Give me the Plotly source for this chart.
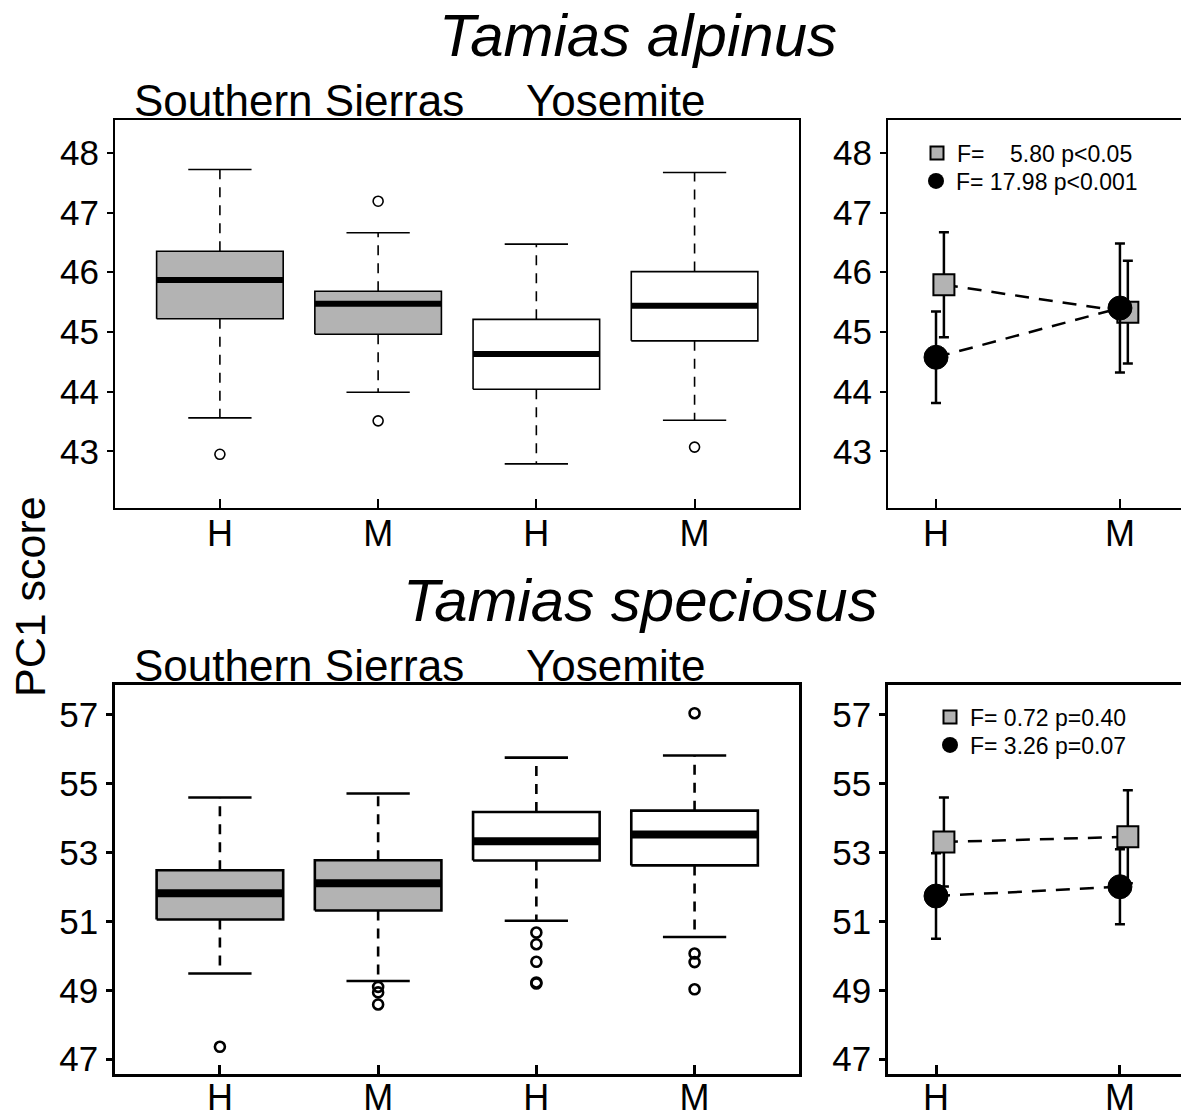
import plotly.graph_objects as go

W, H = 1181, 1118
FONT = "Arial, Liberation Sans, sans-serif"
GREY = "#b3b3b3"

# ---------------- data ----------------
box_x = [1, 2, 3, 4]
box_ticktext = ["H", "M", "H", "M"]
box_fill = [GREY, GREY, "white", "white"]

# Tamias alpinus boxplots
alp_q1 = [45.22, 44.96, 44.04, 44.85]
alp_med = [45.87, 45.47, 44.63, 45.44]
alp_q3 = [46.35, 45.68, 45.21, 46.01]
alp_lo = [43.56, 43.99, 42.79, 43.52]
alp_hi = [47.72, 46.66, 46.47, 47.67]
alp_out_x = [1, 2, 2, 4]
alp_out_y = [42.95, 47.19, 43.51, 43.07]

# Tamias speciosus boxplots
spe_q1 = [51.06, 51.32, 52.77, 52.63]
spe_med = [51.82, 52.11, 53.33, 53.53]
spe_q3 = [52.49, 52.78, 54.18, 54.22]
spe_lo = [49.49, 49.27, 51.02, 50.55]
spe_hi = [54.60, 54.72, 55.76, 55.82]
spe_out_x = [1, 2, 2, 2, 3, 3, 3, 3, 3, 4, 4, 4, 4]
spe_out_y = [47.36, 49.10, 48.94, 48.59, 50.68, 50.34, 49.83, 49.23, 49.20,
             57.05, 50.07, 49.82, 49.03]

# interaction plots (H, M)
int_x = [1, 2]
int_ticktext = ["H", "M"]
alp_ss_mean = [45.79, 45.33]
alp_ss_err = [0.88, 0.86]
alp_yo_mean = [44.575, 45.40]
alp_yo_err = [0.765, 1.08]
spe_ss_mean = [53.31, 53.46]
spe_ss_err = [1.29, 1.35]
spe_yo_mean = [51.74, 52.01]
spe_yo_err = [1.24, 1.09]

alp_legend = ["F=\u00a0\u00a0\u00a0 5.80 p&lt;0.05", "F= 17.98 p&lt;0.001"]
spe_legend = ["F= 0.72 p=0.40", "F= 3.26 p=0.07"]

alp_yticks = [43, 44, 45, 46, 47, 48]
spe_yticks = [47, 49, 51, 53, 55, 57]

# ---------------- figure ----------------
fig = go.Figure()
HW = 0.4     # half box width
CAP = 0.2    # half cap width
OFF = 0.043  # dodge for squares


def add_boxes(q1, med, q3, lo, hi, ox, oy, xa, ya, lw, medw, osize):
    for i, x in enumerate(box_x):
        fig.add_trace(go.Scatter(
            x=[x, x, None, x, x], y=[q3[i], hi[i], None, q1[i], lo[i]],
            mode="lines", line=dict(color="black", width=lw, dash="10px,8px"),
            xaxis=xa, yaxis=ya, showlegend=False, hoverinfo="skip"))
        fig.add_trace(go.Scatter(
            x=[x - CAP, x + CAP, None, x - CAP, x + CAP],
            y=[hi[i], hi[i], None, lo[i], lo[i]],
            mode="lines", line=dict(color="black", width=lw),
            xaxis=xa, yaxis=ya, showlegend=False, hoverinfo="skip"))
        fig.add_trace(go.Scatter(
            x=[x - HW, x + HW, x + HW, x - HW, x - HW],
            y=[q1[i], q1[i], q3[i], q3[i], q1[i]],
            mode="lines", fill="toself", fillcolor=box_fill[i],
            line=dict(color="black", width=lw),
            xaxis=xa, yaxis=ya, showlegend=False, hoverinfo="skip"))
        fig.add_trace(go.Scatter(
            x=[x - HW, x + HW], y=[med[i], med[i]],
            mode="lines", line=dict(color="black", width=medw),
            xaxis=xa, yaxis=ya, showlegend=False, hoverinfo="skip"))
    fig.add_trace(go.Scatter(
        x=ox, y=oy, mode="markers",
        marker=dict(symbol="circle-open", size=osize, color="black",
                    line=dict(color="black", width=lw)),
        xaxis=xa, yaxis=ya, showlegend=False, hoverinfo="skip"))


def add_interaction(ss_m, ss_e, yo_m, yo_e, xa, ya, lw, leg_names, legnames):
    fig.add_trace(go.Scatter(
        x=[v + OFF for v in int_x], y=ss_m, mode="lines+markers",
        line=dict(color="black", width=lw, dash="14px,10px"),
        marker=dict(symbol="square", size=21, color=GREY,
                    line=dict(color="black", width=2)),
        error_y=dict(type="data", array=ss_e, color="black",
                     thickness=lw, width=5),
        xaxis=xa, yaxis=ya, showlegend=False, hoverinfo="skip"))
    fig.add_trace(go.Scatter(
        x=int_x, y=yo_m, mode="lines+markers",
        line=dict(color="black", width=lw, dash="14px,10px"),
        marker=dict(symbol="circle", size=24, color="black",
                    line=dict(color="black", width=1)),
        error_y=dict(type="data", array=yo_e, color="black",
                     thickness=lw, width=5),
        xaxis=xa, yaxis=ya, showlegend=False, hoverinfo="skip"))
    # legend entries (one legend per row)
    fig.add_trace(go.Scatter(
        x=[None], y=[None], mode="markers", name=leg_names[0],
        marker=dict(symbol="square", size=13, color=GREY,
                    line=dict(color="black", width=2)),
        legend=legnames[0], xaxis=xa, yaxis=ya))
    fig.add_trace(go.Scatter(
        x=[None], y=[None], mode="markers", name=leg_names[1],
        marker=dict(symbol="circle", size=17, color="black"),
        legend=legnames[1], xaxis=xa, yaxis=ya))


add_boxes(alp_q1, alp_med, alp_q3, alp_lo, alp_hi, alp_out_x, alp_out_y,
          "x", "y", 1.6, 6, 10)
add_boxes(spe_q1, spe_med, spe_q3, spe_lo, spe_hi, spe_out_x, spe_out_y,
          "x3", "y3", 2.6, 8, 10)
add_interaction(alp_ss_mean, alp_ss_err, alp_yo_mean, alp_yo_err,
                "x2", "y2", 2.5, alp_legend, ["legend", "legend2"])
add_interaction(spe_ss_mean, spe_ss_err, spe_yo_mean, spe_yo_err,
                "x4", "y4", 2.5, spe_legend, ["legend3", "legend4"])


def px_x(p):
    return p / W


def px_y(p):
    return 1 - p / H


top_dom = [px_y(508), px_y(120)]
bot_dom = [px_y(1074), px_y(685)]
left_dom = [px_x(115), px_x(799)]
right_dom = [px_x(888), 1.0]


def xaxis(dom, rng, tv, tt, lw, mirror=True, anchor="y", standoff=-7):
    return dict(domain=dom, range=rng, tickvals=tv, ticktext=tt,
                showline=True, linecolor="black", linewidth=lw, mirror=mirror,
                ticks="inside", ticklen=9, tickwidth=lw, tickcolor="black",
                showgrid=False, zeroline=False, anchor=anchor,
                automargin=False,
                tickfont=dict(family=FONT, size=36, color="black"),
                ticklabelstandoff=standoff, fixedrange=True)


def yaxis(dom, rng, tv, lw, mirror=True, anchor="x"):
    return dict(domain=dom, range=rng, tickvals=tv,
                showline=True, linecolor="black", linewidth=lw, mirror=mirror,
                ticks="outside", ticklen=6, tickwidth=lw, tickcolor="black",
                showgrid=False, zeroline=False, anchor=anchor,
                automargin=False,
                tickfont=dict(family=FONT, size=35, color="black"),
                ticklabelstandoff=1, fixedrange=True)


def legend_at(xp, yp):
    return dict(x=px_x(xp), y=px_y(yp), xanchor="left", yanchor="middle",
                font=dict(family=FONT, size=23, color="black"),
                bgcolor="rgba(0,0,0,0)", borderwidth=0, itemsizing="trace",
                tracegroupgap=0)


alp_range = [42.05, 48.55]
spe_range = [46.57, 57.87]
box_range = [0.337, 4.66]
int_range = [0.739, 2.332]

fig.update_layout(
    width=W, height=H, autosize=False,
    margin=dict(l=0, r=0, t=0, b=0, autoexpand=False),
    paper_bgcolor="white", plot_bgcolor="white",
    font=dict(family=FONT, color="black"),
    xaxis=xaxis(left_dom, box_range, box_x, box_ticktext, 2, True, "y"),
    yaxis=yaxis(top_dom, alp_range, alp_yticks, 2, True, "x"),
    xaxis2=xaxis(right_dom, int_range, int_x, int_ticktext, 2, True, "y2"),
    yaxis2=yaxis(top_dom, alp_range, alp_yticks, 2, False, "x2"),
    xaxis3=xaxis(left_dom, box_range, box_x, box_ticktext, 2.6, True, "y3",
                 -10),
    yaxis3=yaxis(bot_dom, spe_range, spe_yticks, 2.6, True, "x3"),
    xaxis4=xaxis(right_dom, int_range, int_x, int_ticktext, 2.6, True, "y4",
                 -10),
    yaxis4=yaxis(bot_dom, spe_range, spe_yticks, 2.6, False, "x4"),
    legend=legend_at(917, 153),
    legend2=legend_at(916, 181),
    legend3=legend_at(930, 717),
    legend4=legend_at(930, 745),
)

annots = [
    dict(text="<i>Tamias alpinus</i>", x=px_x(638), y=px_y(36), size=60),
    dict(text="Southern Sierras", x=px_x(299), y=px_y(100), size=44),
    dict(text="Yosemite", x=px_x(615), y=px_y(100), size=44),
    dict(text="<i>Tamias speciosus</i>", x=px_x(640), y=px_y(600), size=60),
    dict(text="Southern Sierras", x=px_x(299), y=px_y(665), size=44),
    dict(text="Yosemite", x=px_x(615), y=px_y(665), size=44),
]
for a in annots:
    fig.add_annotation(text=a["text"], x=a["x"], y=a["y"], xref="paper",
                       yref="paper", xanchor="center", yanchor="middle",
                       showarrow=False,
                       font=dict(family=FONT, size=a["size"], color="black"))
fig.add_annotation(text="PC1 score", x=px_x(30), y=px_y(597), xref="paper",
                   yref="paper", xanchor="center", yanchor="middle",
                   textangle=-90, showarrow=False,
                   font=dict(family=FONT, size=43, color="black"))

fig.write_html("out.html")
